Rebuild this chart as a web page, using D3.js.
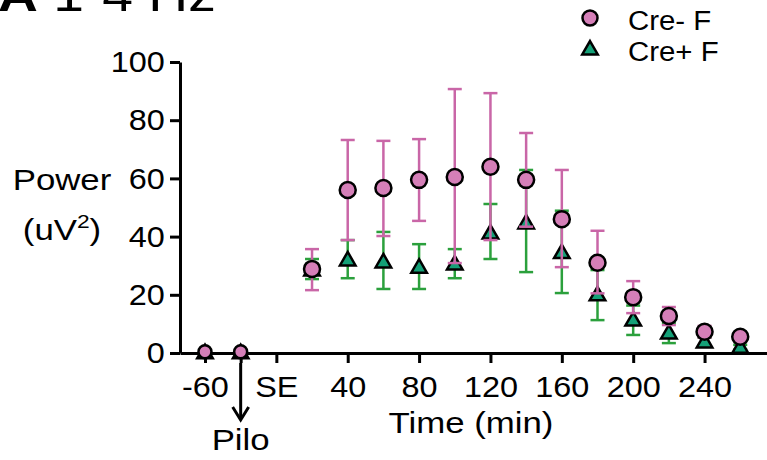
<!DOCTYPE html>
<html>
<head>
<meta charset="utf-8">
<script src="https://cdn.jsdelivr.net/npm/d3@7"></script>
<style>
  body { margin: 0; background: #fff; }
  svg { display: block; font-family: "Liberation Sans", Arial, sans-serif; }
</style>
</head>
<body>
<div id="chart"></div>
<script>
const width = 767;
const height = 460;

// x positions (slots of 20 min; first two points are pre-SE baseline and pilo)
const timePos = [-40, -20, 20, 40, 60, 80, 100, 120, 140, 160, 180, 200, 220, 240, 260];
const tickPos = [-40, -20, 0, 40, 80, 120, 160, 200, 240];
const tickLabels = ["-60", "", "SE", "40", "80", "120", "160", "200", "240"];
const yTicks = [0, 20, 40, 60, 80, 100];

// Cre- F (pink circles)
const creMinus   = [0.4, 0.4, 28.9, 56.0, 56.7, 59.5, 60.5, 64.0, 59.5, 46.0, 31.0, 19.2, 12.7, 7.3, 5.6];
const creMinusHi = [0.6, 0.6, 35.7, 73.2, 72.9, 73.5, 90.7, 89.3, 75.6, 62.9, 42.0, 24.7, 15.8, 9.3, 6.8];
const creMinusLo = [0.2, 0.2, 21.6, 38.8, 40.2, 45.4, 30.9, 38.8, 43.4, 29.5, 20.5, 13.7, 9.6, 5.3, 4.4];

// Cre+ F (green triangles)
const crePlus   = [0.1, 0.1, 28.5, 32.0, 31.3, 29.5, 30.6, 41.2, 44.7, 34.5, 20.0, 11.3, 6.9, 3.8, 2.0];
const crePlusHi = [0.3, 0.3, 32.3, 38.8, 41.6, 37.4, 35.7, 51.2, 62.9, 48.9, 28.5, 16.3, 10.3, 5.3, 2.8];
const crePlusLo = [0.0, 0.0, 25.4, 25.7, 22.0, 22.0, 25.7, 32.3, 27.8, 20.6, 11.3, 6.2, 3.4, 2.3, 1.2];

const pinkFill = "#d57fb8", pinkBar = "#c966a7";
const greenFill = "#14a077", greenBar = "#2ba03c";

const svg = d3.select("#chart").append("svg")
    .attr("width", width)
    .attr("height", height);

const x = d3.scaleLinear().domain([-54, 275]).range([180, 767]);
const y = d3.scaleLinear().domain([0, 100]).range([353, 62]);

// panel title (cut off at the top)
const title = svg.append("text")
    .attr("transform", "translate(-2,11) scale(1.2,1)")
    .attr("font-size", 46);
title.append("tspan").attr("font-weight", "bold").text("A");
title.append("tspan").text(" 1-4 Hz");

// axes
const yAxis = svg.append("g")
    .attr("transform", `translate(${x.range()[0]},0)`)
    .call(d3.axisLeft(y).tickValues(yTicks).tickSize(10).tickSizeOuter(0).tickPadding(4));

const xAxis = svg.append("g")
    .attr("transform", `translate(0,${y(0)})`)
    .call(d3.axisBottom(x).tickValues(tickPos).tickFormat((d, i) => tickLabels[i])
        .tickSize(10).tickSizeOuter(0).tickPadding(13));

[yAxis, xAxis].forEach(g => {
    g.select(".domain").attr("stroke", "#000").attr("stroke-width", 3);
    g.selectAll(".tick line").attr("stroke", "#000").attr("stroke-width", 3);
    g.selectAll(".tick text")
        .attr("fill", "#000")
        .attr("font-size", 30)
        .attr("font-family", "Liberation Sans, Arial, sans-serif")
        .attr("transform", "scale(1.08,1)");
});

// axis titles
svg.append("text")
    .attr("transform", "translate(62,190) scale(1.2,1)")
    .attr("text-anchor", "middle")
    .attr("font-size", 29)
    .text("Power");
const unit = svg.append("text")
    .attr("transform", "translate(62,240) scale(1.2,1)")
    .attr("text-anchor", "middle")
    .attr("font-size", 29);
unit.append("tspan").text("(uV");
unit.append("tspan").attr("font-size", 19).attr("dy", -12).text("2");
unit.append("tspan").attr("dy", 12).text(")");

svg.append("text")
    .attr("transform", "translate(471,433) scale(1.2,1)")
    .attr("text-anchor", "middle")
    .attr("font-size", 29)
    .text("Time (min)");

// Pilo arrow
const ax = x(-20);
svg.append("line")
    .attr("x1", ax).attr("x2", ax)
    .attr("y1", 363).attr("y2", 419)
    .attr("stroke", "#000").attr("stroke-width", 3);
svg.append("path")
    .attr("d", `M${ax - 8},${407} L${ax},${420} L${ax + 8},${407}`)
    .attr("fill", "none").attr("stroke", "#000").attr("stroke-width", 3);
svg.append("text")
    .attr("transform", `translate(${ax},450) scale(1.2,1)`)
    .attr("text-anchor", "middle")
    .attr("font-size", 29)
    .text("Pilo");

// error bars
function errorBars(hi, lo, color) {
    const g = svg.append("g").attr("stroke", color).attr("stroke-width", 2.5);
    timePos.forEach((t, i) => {
        if (hi[i] - lo[i] < 1) return;
        const cx = x(t);
        g.append("line").attr("x1", cx).attr("x2", cx).attr("y1", y(hi[i])).attr("y2", y(lo[i]));
        g.append("line").attr("x1", cx - 7).attr("x2", cx + 7).attr("y1", y(hi[i])).attr("y2", y(hi[i]));
        g.append("line").attr("x1", cx - 7).attr("x2", cx + 7).attr("y1", y(lo[i])).attr("y2", y(lo[i]));
    });
}

errorBars(crePlusHi, crePlusLo, greenBar);

svg.append("g").selectAll("path")
    .data(crePlus)
    .join("path")
    .attr("d", d3.symbol(d3.symbolTriangle, 105))
    .attr("transform", (d, i) => `translate(${x(timePos[i])},${y(d) + 1})`)
    .attr("fill", greenFill)
    .attr("stroke", "#000")
    .attr("stroke-width", 2.5);

errorBars(creMinusHi, creMinusLo, pinkBar);

svg.append("g").selectAll("circle")
    .data(creMinus)
    .join("circle")
    .attr("cx", (d, i) => x(timePos[i]))
    .attr("cy", d => y(d))
    .attr("r", (d, i) => i < 2 ? 6.5 : 8)
    .attr("fill", pinkFill)
    .attr("stroke", "#000")
    .attr("stroke-width", 2.5);

// legend
const legend = svg.append("g");
legend.append("circle")
    .attr("cx", 590).attr("cy", 18).attr("r", 7.5)
    .attr("fill", pinkFill).attr("stroke", "#000").attr("stroke-width", 2.5);
legend.append("path")
    .attr("d", d3.symbol(d3.symbolTriangle, 105))
    .attr("transform", "translate(590,50)")
    .attr("fill", greenFill).attr("stroke", "#000").attr("stroke-width", 2.5);
legend.append("text")
    .attr("transform", "translate(628,30) scale(1.05,1)")
    .attr("font-size", 28).text("Cre- F");
legend.append("text")
    .attr("transform", "translate(628,61) scale(1.05,1)")
    .attr("font-size", 28).text("Cre+ F");
</script>
</body>
</html>
